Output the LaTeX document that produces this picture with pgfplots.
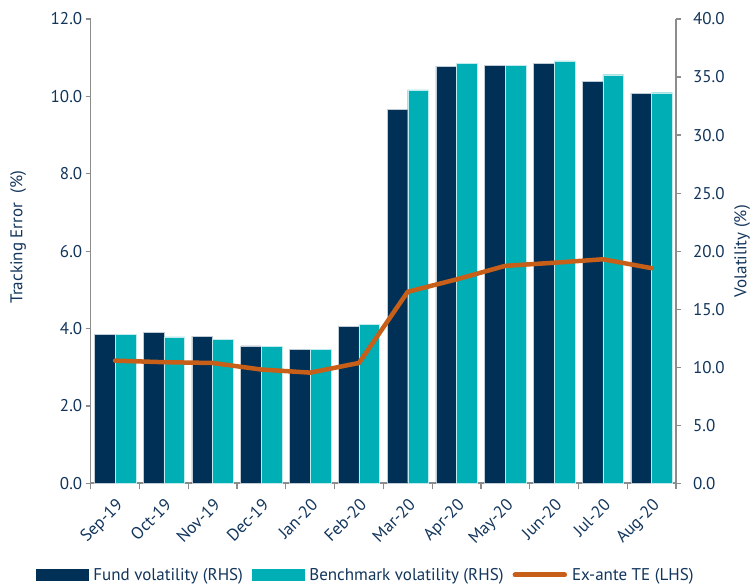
\documentclass[border=0pt]{standalone}
\usepackage{pgfplots}
\pgfplotsset{compat=1.18}
\usepackage{fontspec}
\setmainfont{PT Sans}
\definecolor{navy}{HTML}{003056}
\definecolor{teal2}{HTML}{00AFB5}
\definecolor{orng}{HTML}{C85F19}
\definecolor{txt}{HTML}{12355B}
\definecolor{axgray}{HTML}{8C8C8C}
\begin{document}
\begin{tikzpicture}[x=1pt,y=1pt]
\useasboundingbox (-90.7pt,-102.7pt) rectangle (662.3pt,483.3pt);
\pgfplotsset{
  every axis/.append style={
    font=\fontsize{17}{20}\selectfont, text=txt,
    scale only axis, width=585.3pt, height=464.3pt,
    xmin=-0.5, xmax=11.5,
    /pgf/number format/assume math mode=true,
    /pgf/number format/fixed, /pgf/number format/fixed zerofill, /pgf/number format/precision=1,
  },
}
% ---------- bars (right axis) ----------
\begin{axis}[
  ymin=0, ymax=40, ytick={0,5,...,40}, yticklabels={},
  axis y line*=right, axis x line*=bottom,
  axis line style={axgray, line width=1.6pt},
  tick align=outside,
  y tick style={axgray, line width=1.2pt}, major tick length=5pt,
  xtick={0,...,11},
  xticklabels={Sep-19,Oct-19,Nov-19,Dec-19,Jan-20,Feb-20,Mar-20,Apr-20,May-20,Jun-20,Jul-20,Aug-20},
  major x tick style={draw=none},
  minor xtick={-0.5,0.5,...,11.5},
  minor x tick style={axgray, line width=1.2pt}, minor tick length=6pt,
  xticklabel style={rotate=45, anchor=north east, inner sep=2pt, xshift=-4.5pt, yshift=-4.5pt},
  ylabel={Volatility (\%)},
  ylabel style={at={(axis description cs:1.113,0.5)}, anchor=center, rotate=0},
  clip=false,
]
\addplot[ybar, bar width=0.425, bar shift=-0.2125, fill=navy, draw=white!75!navy, line width=0.4pt]
  coordinates {(0,12.85) (1,13.02) (2,12.67) (3,11.84) (4,11.56) (5,13.53) (6,32.2) (7,35.95) (8,36.0) (9,36.2) (10,34.65) (11,33.6)};
\addplot[ybar, bar width=0.425, bar shift=0.2125, fill=teal2, draw=white!75!teal2, line width=0.4pt]
  coordinates {(0,12.85) (1,12.62) (2,12.39) (3,11.81) (4,11.56) (5,13.71) (6,33.9) (7,36.2) (8,36.0) (9,36.4) (10,35.2) (11,33.65)};
\begin{scope}[every node/.style={anchor=west, inner sep=0pt, xshift=17pt, text=txt}]
\node at (axis cs:11.5,0) {0.0};
\node at (axis cs:11.5,5) {5.0};
\node at (axis cs:11.5,10) {10.0};
\node at (axis cs:11.5,15) {15.0};
\node at (axis cs:11.5,20) {20.0};
\node at (axis cs:11.5,25) {25.0};
\node at (axis cs:11.5,30) {30.0};
\node at (axis cs:11.5,35) {35.0};
\node at (axis cs:11.5,40) {40.0};
\end{scope}
\end{axis}
% ---------- line (left axis) ----------
\begin{axis}[
  ymin=0, ymax=12, ytick={0,2,...,12},
  axis y line*=left, axis x line=none,
  axis line style={axgray, line width=1.6pt},
  tick align=outside,
  y tick style={axgray, line width=1.2pt}, major tick length=5pt,
  ylabel={Tracking Error~ (\%)},
  ylabel style={at={(axis description cs:-0.124,0.53)}, anchor=center},
  legend columns=3,
  legend style={draw=none, fill=none, at={(axis description cs:0.470,-0.1975)}, anchor=center,
    font=\fontsize{17}{20}\selectfont, text=txt,
    /tikz/every odd column/.append style={column sep=3pt},
    /tikz/every even column/.append style={column sep=7pt}},
]
\addlegendimage{legend image code/.code={\fill[navy] (0pt,-5.5pt) rectangle (52pt,5.5pt);}}
\addlegendentry{Fund volatility (RHS)}
\addlegendimage{legend image code/.code={\fill[teal2] (0pt,-5.5pt) rectangle (52pt,5.5pt);}}
\addlegendentry{Benchmark volatility (RHS)}
\addlegendimage{legend image code/.code={\draw[orng, line width=5pt, line cap=round] (2.5pt,0pt) -- (52pt,0pt);}}
\addlegendentry{Ex-ante TE (LHS)}
\addplot[orng, line width=4.5pt, line join=round, line cap=round, mark=none]
  coordinates {(0,3.17) (1,3.13) (2,3.11) (3,2.94) (4,2.86) (5,3.11) (6,4.95) (7,5.27) (8,5.62) (9,5.70) (10,5.79) (11,5.56)};
\end{axis}
\end{tikzpicture}
\end{document}
